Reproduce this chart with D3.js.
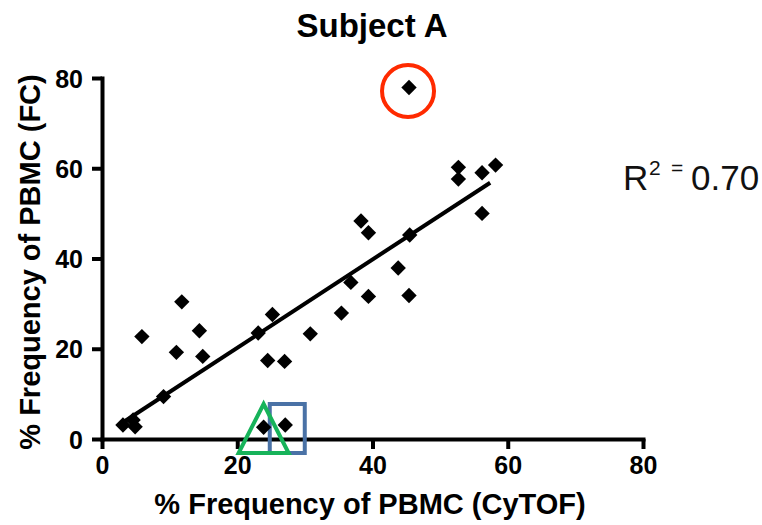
<!DOCTYPE html>
<html>
<head>
<meta charset="utf-8">
<script src="https://cdn.jsdelivr.net/npm/d3@7"></script>
<style>
  html, body { margin: 0; padding: 0; background: #fff; }
  svg { display: block; font-family: "Liberation Sans", Arial, sans-serif; }
</style>
</head>
<body>
<svg id="chart" width="762" height="525"></svg>
<script>
// Paired measurements: % of PBMC by CyTOF (x) and by flow cytometry (y)
const cytof = [3.1, 4.6, 4.9, 5.9, 9.1, 11.0, 11.8, 14.4, 14.9, 23.1,
               23.9, 24.5, 25.2, 27.0, 27.1, 30.8, 35.4, 36.8, 38.3, 39.4,
               39.4, 43.8, 45.4, 45.5, 45.4, 52.7, 52.7, 56.2, 56.2, 58.2];
const fc    = [3.1, 4.2, 2.7, 22.7, 9.4, 19.2, 30.4, 24.0, 18.3, 23.5,
               2.6, 17.4, 27.6, 17.2, 3.1, 23.3, 27.9, 34.7, 48.3, 45.7,
               31.6, 37.9, 77.9, 45.2, 31.8, 60.2, 57.6, 59.0, 50.0, 60.7];

// Linear fit shown over the range of the data
const fitSlope = 0.978;
const fitIntercept = 0.66;
const fitRange = [2.9, 57.4];
const rSquared = "0.70";

// Axis ticks
const xTicks = [0, 20, 40, 60, 80];
const yTicks = [0, 20, 40, 60, 80];

// Highlighted samples: outlier, and two low-FC samples
const outlierIndex = 22;
const triangleIndex = 10;
const boxIndex = 14;

const svg = d3.select("#chart");

const x = d3.scaleLinear().domain([0, 80]).range([102, 643]);
const y = d3.scaleLinear().domain([0, 80]).range([439, 78]);

// Title
svg.append("text")
  .attr("x", 372).attr("y", 37)
  .attr("text-anchor", "middle")
  .attr("font-size", 33).attr("font-weight", "bold")
  .text("Subject A");

// Axes
const xAxis = svg.append("g")
  .attr("transform", `translate(0,${y(0)})`)
  .call(d3.axisBottom(x).tickValues(xTicks).tickSize(10).tickSizeOuter(0).tickPadding(7));
const yAxis = svg.append("g")
  .attr("transform", `translate(${x(0)},0)`)
  .call(d3.axisLeft(y).tickValues(yTicks).tickSize(10).tickSizeOuter(0).tickPadding(9));

[xAxis, yAxis].forEach(g => {
  g.select(".domain").attr("stroke", "#000").attr("stroke-width", 4).attr("stroke-linecap", "square");
  g.selectAll(".tick line").attr("stroke", "#000").attr("stroke-width", 4);
  g.selectAll(".tick text")
    .attr("fill", "#000")
    .attr("font-size", 25).attr("font-weight", "bold")
    .attr("font-family", "'Liberation Sans', Arial, sans-serif");
});
yAxis.selectAll(".tick text").attr("dy", "0.36em");

// Axis titles
svg.append("text")
  .attr("x", 370).attr("y", 514)
  .attr("text-anchor", "middle")
  .attr("font-size", 29).attr("font-weight", "bold")
  .text("% Frequency of PBMC (CyTOF)");
svg.append("text")
  .attr("transform", "translate(40,262) rotate(-90)")
  .attr("text-anchor", "middle")
  .attr("font-size", 29).attr("font-weight", "bold")
  .text("% Frequency of PBMC (FC)");

// Regression line
svg.append("line")
  .attr("x1", x(fitRange[0])).attr("y1", y(fitSlope * fitRange[0] + fitIntercept))
  .attr("x2", x(fitRange[1])).attr("y2", y(fitSlope * fitRange[1] + fitIntercept))
  .attr("stroke", "#000").attr("stroke-width", 4);

// Highlight marks
const ox = x(cytof[outlierIndex]), oy = y(fc[outlierIndex]);
svg.append("circle")
  .attr("cx", ox - 1).attr("cy", oy + 3.5).attr("r", 26)
  .attr("fill", "none").attr("stroke", "#ff2a00").attr("stroke-width", 4);

const bx = x(cytof[boxIndex]);
svg.append("rect")
  .attr("x", bx - 15.5).attr("y", 404).attr("width", 35).attr("height", 49)
  .attr("fill", "none").attr("stroke", "#4a72a6").attr("stroke-width", 4);

const tx = x(cytof[triangleIndex]);
svg.append("path")
  .attr("d", `M${tx},404 L${tx + 25},453 L${tx - 25},453 Z`)
  .attr("fill", "none").attr("stroke", "#17b35a").attr("stroke-width", 4)
  .attr("stroke-linejoin", "miter");

// Data points as diamonds
const diamond = d3.symbol().type(d3.symbolSquare).size(118);
svg.append("g").selectAll("path")
  .data(d3.range(cytof.length))
  .join("path")
  .attr("d", diamond)
  .attr("transform", i => `translate(${x(cytof[i])},${y(fc[i])}) rotate(45)`)
  .attr("fill", "#000");

// R squared annotation
const r2 = svg.append("text").attr("y", 190).attr("fill", "#111");
r2.append("tspan").attr("x", 623).attr("font-size", 35).text("R");
r2.append("tspan").attr("x", 649).attr("dy", -15).attr("font-size", 21).text("2");
r2.append("tspan").attr("x", 671).attr("font-size", 21).text("=");
r2.append("tspan").attr("x", 691).attr("dy", 15).attr("font-size", 35).text(rSquared);
</script>
</body>
</html>
